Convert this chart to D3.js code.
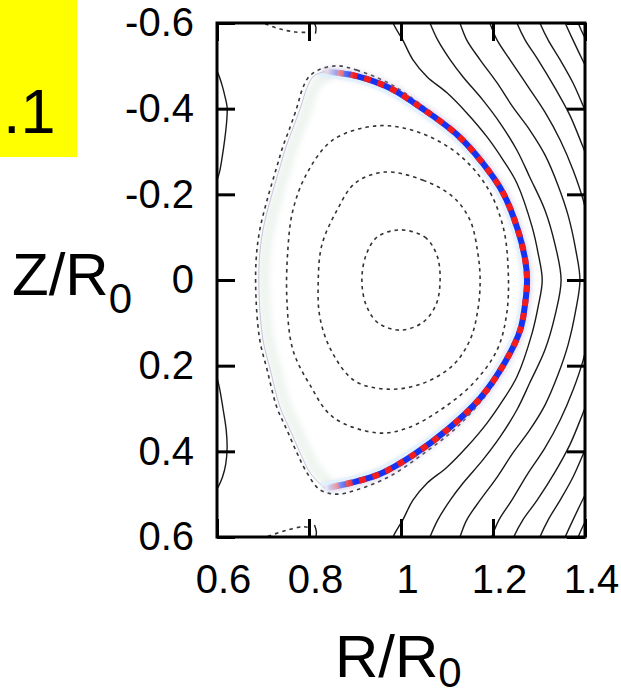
<!DOCTYPE html>
<html>
<head>
<meta charset="utf-8">
<script src="https://cdnjs.cloudflare.com/ajax/libs/d3/7.8.5/d3.min.js"></script>
<style>
body { margin: 0; background: #fff; }
text { font-family: "Liberation Sans", Arial, Helvetica, sans-serif; }
</style>
</head>
<body>
<div id="chart"></div>
<script>
// axis ticks
const xTicks = [0.6, 0.8, 1.0, 1.2, 1.4];
const xTickLabels = ["0.6", "0.8", "1", "1.2", "1.4"];
const zTicks = [-0.6, -0.4, -0.2, 0, 0.2, 0.4, 0.6];
const zTickLabels = ["-0.6", "-0.4", "-0.2", "0", "0.2", "0.4", "0.6"];

// closed flux surfaces inside the plasma (dashed), [R, Z]
const surface1 = [[0.998,-0.117],[1.052,-0.100],[1.078,-0.058],[1.085,0],[1.076,0.058],[1.046,0.100],[0.998,0.117],[0.950,0.100],[0.924,0.058],[0.915,0],[0.924,-0.058],[0.948,-0.100]];
const surface2 = [[0.965,-0.252],[1.048,-0.233],[1.113,-0.194],[1.150,-0.140],[1.167,-0.063],[1.172,0],[1.167,0.070],[1.150,0.140],[1.113,0.199],[1.048,0.241],[0.976,0.255],[0.900,0.236],[0.850,0.168],[0.824,0.089],[0.820,0.007],[0.828,-0.082],[0.861,-0.163],[0.900,-0.226]];
const surface3 = [[0.948,-0.360],[1.035,-0.346],[1.122,-0.296],[1.187,-0.217],[1.222,-0.124],[1.233,-0.023],[1.230,0.077],[1.209,0.163],[1.157,0.241],[1.085,0.304],[1.013,0.346],[0.948,0.357],[0.852,0.320],[0.802,0.245],[0.765,0.163],[0.752,0.047],[0.754,-0.070],[0.765,-0.163],[0.796,-0.250],[0.852,-0.327]];
const boundary = [[0.861,-0.500],[0.904,-0.490],[0.976,-0.458],[1.048,-0.406],[1.122,-0.343],[1.193,-0.257],[1.237,-0.175],[1.265,-0.093],[1.276,0],[1.265,0.093],[1.237,0.175],[1.193,0.257],[1.122,0.343],[1.048,0.406],[0.976,0.458],[0.904,0.490],[0.861,0.500],[0.824,0.490],[0.796,0.451],[0.774,0.404],[0.752,0.350],[0.730,0.297],[0.709,0.210],[0.693,0.140],[0.685,0.047],[0.685,-0.047],[0.693,-0.117],[0.709,-0.187],[0.730,-0.264],[0.743,-0.311],[0.759,-0.357],[0.774,-0.404],[0.785,-0.444],[0.798,-0.472],[0.820,-0.490]];

// private flux region near the X-points (dashed)
const privateTop = [[0.690,-0.605],[0.707,-0.597],[0.737,-0.586],[0.770,-0.579],[0.800,-0.578]];
const privateBottom = [[0.695,0.603],[0.711,0.598],[0.752,0.584],[0.787,0.576],[0.800,0.578]];

// open field lines outside (solid)
const open1 = [[0.980,-0.62],[0.983,-0.600],[1.004,-0.560],[1.026,-0.514],[1.057,-0.474],[1.100,-0.437],[1.143,-0.390],[1.187,-0.334],[1.222,-0.280],[1.252,-0.226],[1.285,-0.124],[1.298,-0.063],[1.307,0],[1.298,0.063],[1.285,0.124],[1.252,0.226],[1.222,0.280],[1.187,0.334],[1.143,0.390],[1.100,0.437],[1.057,0.474],[1.026,0.514],[1.004,0.560],[0.983,0.600],[0.980,0.62]];
const open2 = [[1.056,-0.62],[1.063,-0.600],[1.080,-0.560],[1.107,-0.514],[1.135,-0.474],[1.178,-0.420],[1.215,-0.367],[1.252,-0.303],[1.280,-0.240],[1.313,-0.163],[1.335,-0.082],[1.348,0],[1.335,0.082],[1.313,0.163],[1.280,0.240],[1.252,0.303],[1.215,0.367],[1.178,0.420],[1.135,0.474],[1.107,0.514],[1.080,0.560],[1.063,0.600],[1.056,0.62]];
const open3 = [[1.121,-0.62],[1.128,-0.600],[1.143,-0.560],[1.172,-0.514],[1.209,-0.460],[1.243,-0.404],[1.280,-0.350],[1.313,-0.292],[1.341,-0.222],[1.363,-0.152],[1.380,-0.070],[1.389,0],[1.380,0.070],[1.363,0.152],[1.341,0.222],[1.313,0.292],[1.280,0.350],[1.243,0.404],[1.209,0.460],[1.172,0.514],[1.143,0.560],[1.128,0.600],[1.121,0.62]];
const open4top = [[1.186,-0.62],[1.193,-0.600],[1.209,-0.560],[1.237,-0.514],[1.274,-0.455],[1.313,-0.392],[1.346,-0.327],[1.374,-0.257],[1.396,-0.187],[1.411,-0.117]];
const open4bottom = [[1.411,0.117],[1.396,0.187],[1.374,0.257],[1.346,0.327],[1.313,0.392],[1.274,0.455],[1.241,0.514],[1.213,0.560],[1.197,0.600],[1.190,0.62]];
const open5top = [[1.245,-0.62],[1.252,-0.600],[1.270,-0.560],[1.298,-0.514],[1.335,-0.448],[1.367,-0.385],[1.394,-0.315],[1.411,-0.268]];
const open5bottom = [[1.411,0.268],[1.394,0.315],[1.367,0.385],[1.335,0.448],[1.296,0.514],[1.265,0.560],[1.245,0.600],[1.238,0.62]];
const open6top = [[1.295,-0.62],[1.302,-0.600],[1.320,-0.560],[1.346,-0.514],[1.374,-0.460],[1.400,-0.397],[1.415,-0.362]];
const open6bottom = [[1.415,0.362],[1.400,0.397],[1.374,0.460],[1.346,0.514],[1.320,0.560],[1.302,0.600],[1.295,0.62]];
const open7top = [[1.350,-0.62],[1.357,-0.600],[1.374,-0.560],[1.400,-0.502],[1.415,-0.470]];
const open7bottom = [[1.415,0.470],[1.400,0.502],[1.374,0.560],[1.357,0.600],[1.350,0.62]];
const open8top = [[1.378,-0.62],[1.385,-0.600],[1.400,-0.565],[1.410,-0.545]];
const open8bottom = [[1.410,0.545],[1.400,0.565],[1.385,0.600],[1.378,0.62]];
const wallTop = [[0.596,-0.495],[0.602,-0.483],[0.611,-0.455],[0.617,-0.430],[0.622,-0.404],[0.621,-0.370],[0.617,-0.330],[0.611,-0.285],[0.605,-0.250],[0.596,-0.222]];
const wallBottom = [[0.596,0.212],[0.605,0.250],[0.613,0.300],[0.620,0.350],[0.622,0.390],[0.619,0.430],[0.612,0.460],[0.604,0.480],[0.596,0.495]];
const legTop = [[0.809,-0.605],[0.815,-0.590],[0.814,-0.575]];
const legBottom = [[0.812,0.572],[0.816,0.588],[0.814,0.605]];

// perturbation along the outboard edge (red/blue), and inboard shading
const edgeMode = [[0.830,-0.486],[0.867,-0.483],[0.904,-0.476],[0.976,-0.448],[1.048,-0.399],[1.122,-0.339],[1.176,-0.275],[1.222,-0.203],[1.254,-0.117],[1.270,-0.047],[1.274,0],[1.270,0.054],[1.259,0.117],[1.226,0.192],[1.172,0.276],[1.100,0.350],[1.026,0.409],[0.954,0.453],[0.889,0.474],[0.835,0.486]];
const inboardEdge = [[0.835,-0.487],[0.810,-0.476],[0.796,-0.450],[0.782,-0.404],[0.766,-0.357],[0.750,-0.311],[0.737,-0.264],[0.716,-0.187],[0.700,-0.117],[0.692,-0.047],[0.692,0.047],[0.700,0.140],[0.716,0.210],[0.737,0.297],[0.759,0.350],[0.781,0.404],[0.803,0.451],[0.835,0.487]];

const width = 621, height = 697;

const svg = d3.select("#chart")
  .append("svg")
  .attr("width", width)
  .attr("height", height)
  .style("background", "#fff");

const x = d3.scaleLinear().domain([0.6, 1.4]).range([217, 585]);
const y = d3.scaleLinear().domain([-0.6, 0.6]).range([23, 537]);

const defs = svg.append("defs");
defs.append("clipPath").attr("id", "plot-clip")
  .append("rect")
  .attr("x", x(0.6)).attr("y", y(-0.6))
  .attr("width", x(1.4) - x(0.6)).attr("height", y(0.6) - y(-0.6));
defs.append("filter").attr("id", "soft")
  .attr("x", "-20%").attr("y", "-20%").attr("width", "140%").attr("height", "140%")
  .append("feGaussianBlur").attr("stdDeviation", 3);
defs.append("filter").attr("id", "softer")
  .append("feGaussianBlur").attr("stdDeviation", 0.6);

// fade the red/blue stripes out near the top and bottom ends
const grad = defs.append("linearGradient").attr("id", "fade")
  .attr("gradientUnits", "userSpaceOnUse")
  .attr("x1", x(0.84)).attr("x2", x(0.90)).attr("y1", 0).attr("y2", 0);
grad.append("stop").attr("offset", 0).attr("stop-color", "#000");
grad.append("stop").attr("offset", 1).attr("stop-color", "#fff");
defs.append("mask").attr("id", "fade-mask")
  .attr("maskUnits", "userSpaceOnUse")
  .attr("x", 0).attr("y", 0).attr("width", width).attr("height", height)
  .append("rect")
  .attr("x", 0).attr("y", 0).attr("width", width).attr("height", height)
  .attr("fill", "url(#fade)");

const closedLine = d3.line().x(d => x(d[0])).y(d => y(d[1])).curve(d3.curveCatmullRomClosed.alpha(0.5));
const openLine = d3.line().x(d => x(d[0])).y(d => y(d[1])).curve(d3.curveCatmullRom.alpha(0.5));

const plot = svg.append("g").attr("clip-path", "url(#plot-clip)");

// inboard shading
plot.append("path")
  .attr("d", openLine(inboardEdge.map(d => [d[0] + 0.012, d[1] * 0.98])))
  .attr("fill", "none")
  .attr("stroke", "#dde9df")
  .attr("stroke-width", 11)
  .attr("opacity", 0.5)
  .attr("filter", "url(#soft)");
plot.append("path")
  .attr("d", openLine(inboardEdge))
  .attr("fill", "none")
  .attr("stroke", "#9c92c4")
  .attr("stroke-width", 0.9)
  .attr("opacity", 0.6);

// outside solid lines
const openSets = [open1, open2, open3, open4top, open4bottom, open5top, open5bottom,
  open6top, open6bottom, open7top, open7bottom, open8top, open8bottom,
  wallTop, wallBottom, legTop, legBottom];
plot.selectAll("path.open")
  .data(openSets)
  .enter()
  .append("path")
  .attr("class", "open")
  .attr("d", openLine)
  .attr("fill", "none")
  .attr("stroke", "#1a1a1a")
  .attr("stroke-width", 1.4);

// dashed surfaces
plot.selectAll("path.surface")
  .data([surface1, surface2, surface3, boundary])
  .enter()
  .append("path")
  .attr("class", "surface")
  .attr("d", closedLine)
  .attr("fill", "none")
  .attr("stroke", "#333")
  .attr("stroke-width", 1.6)
  .attr("stroke-dasharray", "3.5,4");

plot.selectAll("path.private")
  .data([privateTop, privateBottom])
  .enter()
  .append("path")
  .attr("class", "private")
  .attr("d", openLine)
  .attr("fill", "none")
  .attr("stroke", "#333")
  .attr("stroke-width", 1.6)
  .attr("stroke-dasharray", "3.5,4");

// red / blue edge mode
plot.append("path")
  .attr("d", openLine(edgeMode))
  .attr("fill", "none")
  .attr("stroke", "#c2b8dc")
  .attr("stroke-width", 7)
  .attr("opacity", 0.8)
  .attr("filter", "url(#soft)");
plot.append("path")
  .attr("d", openLine(edgeMode.map(d => [d[0] - 0.009, d[1] * 0.982])))
  .attr("fill", "none")
  .attr("stroke", "#dff2ff")
  .attr("stroke-width", 4)
  .attr("opacity", 0.8);
const stripes = plot.append("g").attr("mask", "url(#fade-mask)").attr("filter", "url(#softer)");
stripes.append("path")
  .attr("d", openLine(edgeMode))
  .attr("fill", "none")
  .attr("stroke", "#1630f0")
  .attr("stroke-width", 6);
stripes.append("path")
  .attr("d", openLine(edgeMode))
  .attr("fill", "none")
  .attr("stroke", "#f21e1e")
  .attr("stroke-width", 6)
  .attr("stroke-dasharray", "7,7");

// axes with inward ticks
function styleAxis(g) {
  g.select(".domain").remove();
  g.selectAll(".tick line").attr("stroke", "#000").attr("stroke-width", 3);
  g.selectAll(".tick text")
    .attr("fill", "#000")
    .style("font-size", "40px")
    .style("font-family", "'Liberation Sans', Arial, Helvetica, sans-serif");
}

svg.append("g")
  .attr("transform", `translate(0,${y(0.6)})`)
  .call(d3.axisBottom(x).tickValues(xTicks).tickSizeInner(-18).tickSizeOuter(0).tickPadding(28)
    .tickFormat((d, i) => xTickLabels[i]))
  .call(styleAxis)
  .selectAll(".tick text").attr("dx", 6);

svg.append("g")
  .attr("transform", `translate(0,${y(-0.6)})`)
  .call(d3.axisTop(x).tickValues(xTicks).tickSizeInner(-18).tickSizeOuter(0).tickFormat(""))
  .call(styleAxis);

svg.append("g")
  .attr("transform", `translate(${x(0.6)},0)`)
  .call(d3.axisLeft(y).tickValues(zTicks).tickSizeInner(-18).tickSizeOuter(0).tickPadding(23)
    .tickFormat((d, i) => zTickLabels[i]))
  .call(styleAxis);

svg.append("g")
  .attr("transform", `translate(${x(1.4)},0)`)
  .call(d3.axisRight(y).tickValues(zTicks).tickSizeInner(-18).tickSizeOuter(0).tickFormat(""))
  .call(styleAxis);

// frame
svg.append("rect")
  .attr("x", x(0.6)).attr("y", y(-0.6))
  .attr("width", x(1.4) - x(0.6)).attr("height", y(0.6) - y(-0.6))
  .attr("fill", "none")
  .attr("stroke", "#000")
  .attr("stroke-width", 3);

// axis titles
const zTitle = svg.append("text")
  .attr("x", 12).attr("y", 295)
  .style("font-size", "60px")
  .attr("fill", "#000");
zTitle.append("tspan").text("Z/R");
zTitle.append("tspan").text("0").style("font-size", "42px").attr("dy", 18);

const rTitle = svg.append("text")
  .attr("x", 335).attr("y", 677)
  .style("font-size", "60px")
  .attr("fill", "#000");
rTitle.append("tspan").text("R/R");
rTitle.append("tspan").text("0").style("font-size", "42px").attr("dy", 10);

// panel label
svg.append("rect")
  .attr("x", 0).attr("y", 0).attr("width", 77).attr("height", 157)
  .attr("fill", "#ffff00");
svg.append("text")
  .attr("x", 3).attr("y", 133)
  .style("font-size", "63px")
  .attr("fill", "#000")
  .text(".1");
</script>
</body>
</html>
